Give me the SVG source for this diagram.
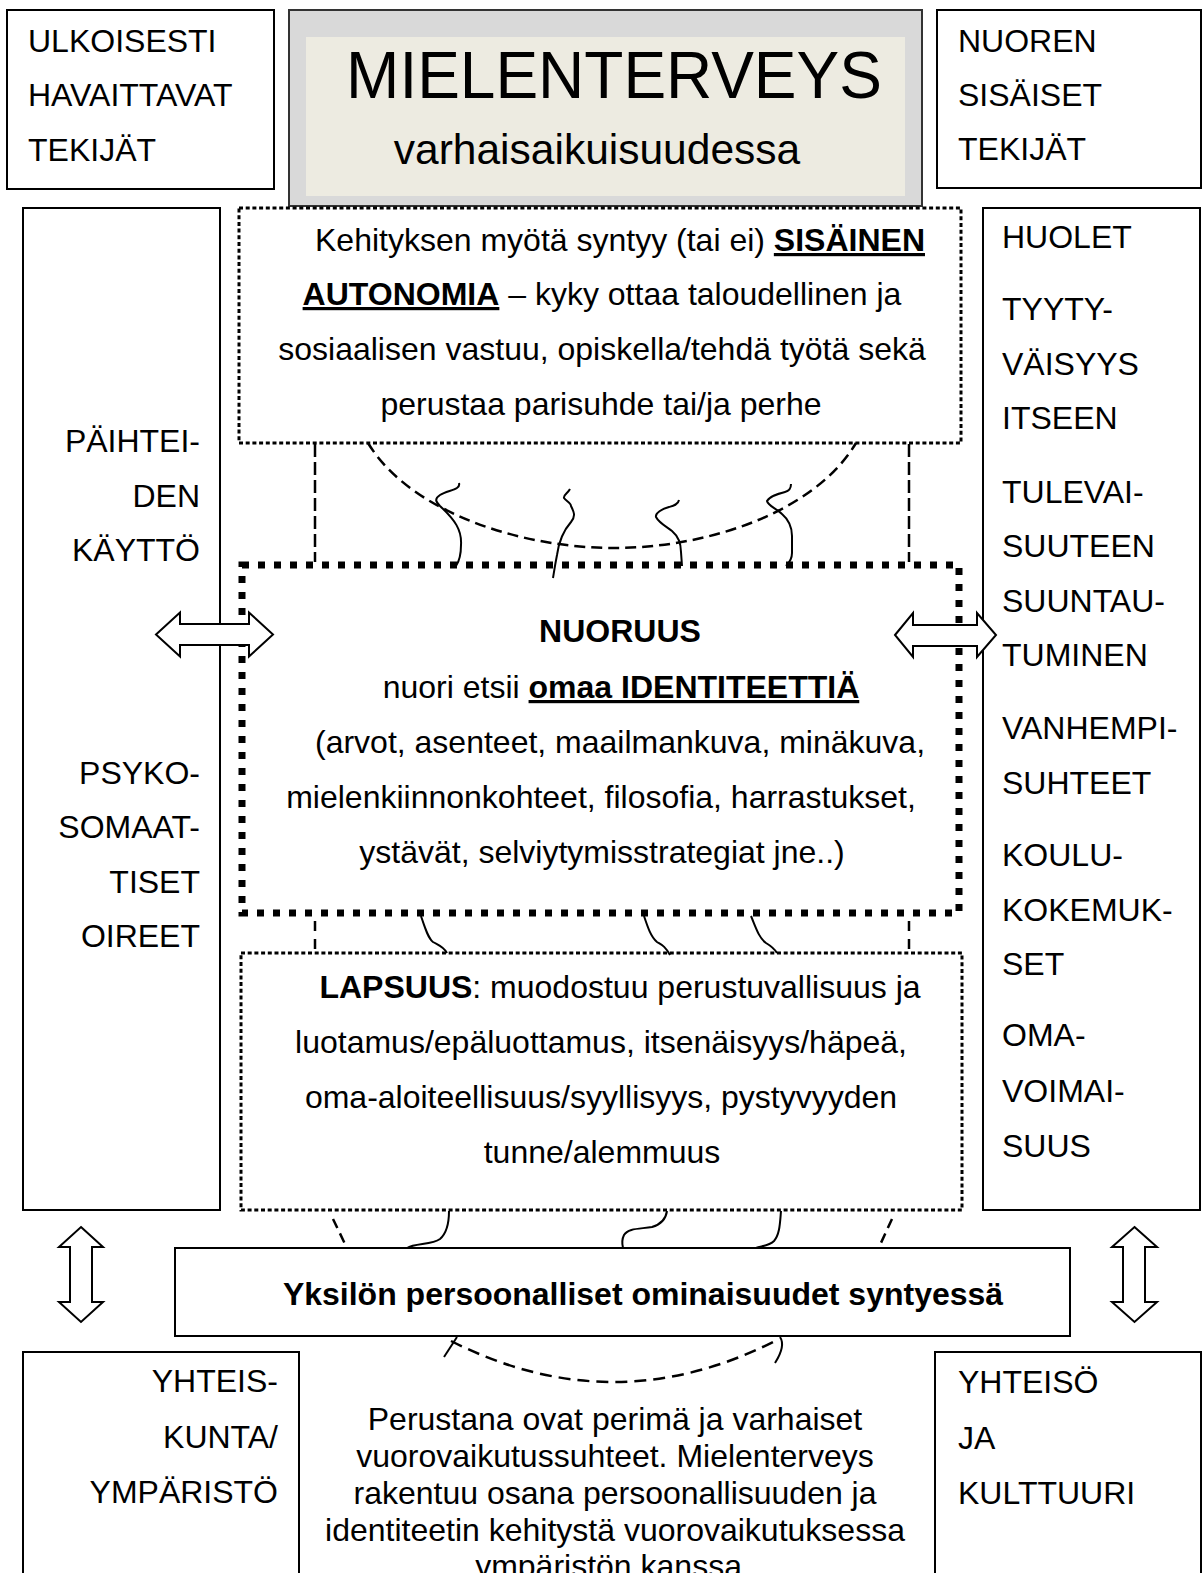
<svg xmlns="http://www.w3.org/2000/svg" width="1203" height="1573" viewBox="0 0 1203 1573">
<style>
text{font-family:"Liberation Sans",Arial,sans-serif;font-size:32px;fill:#000}
.b{font-weight:bold}
.u{text-decoration:underline}
.m{text-anchor:middle}
.e{text-anchor:end}
.box{fill:#fff;stroke:#000;stroke-width:2}
.fdot{fill:#fff;stroke:#000;stroke-width:3;stroke-dasharray:4 2.7}
.tdot{fill:none;stroke:#000;stroke-width:7;stroke-dasharray:7 9}
.dash{fill:none;stroke:#000;stroke-width:2.5;stroke-dasharray:13 5}
.arc{fill:none;stroke:#000;stroke-width:2.5;stroke-dasharray:11 6}
.sq{fill:none;stroke:#000;stroke-width:2}
.arr{fill:#fff;stroke:#000;stroke-width:2;stroke-linejoin:miter}
</style>
<rect width="1203" height="1573" fill="#fff"/>

<g id="ulkoisesti">
<rect class="box" x="7" y="10" width="267" height="179"/>
<text x="28" y="52">ULKOISESTI</text>
<text x="28" y="106">HAVAITTAVAT</text>
<text x="28" y="161">TEKIJÄT</text>
</g>

<g id="title">
<rect x="289" y="10" width="633" height="196" fill="#d9d9d9" stroke="#333" stroke-width="2"/>
<rect x="306" y="37" width="599" height="159" fill="#edebe1"/>
<text class="m" x="614" y="98" transform="translate(0 -4.9) scale(1 1.05)" style="font-size:64px">MIELENTERVEYS</text>
<text class="m" x="597" y="164" style="font-size:42.5px">varhaisaikuisuudessa</text>
</g>

<g id="nuoren">
<rect class="box" x="937" y="10" width="264" height="178"/>
<text x="958" y="52">NUOREN</text>
<text x="958" y="106">SISÄISET</text>
<text x="958" y="160">TEKIJÄT</text>
</g>

<g id="vasen">
<rect class="box" x="23" y="208" width="197" height="1002"/>
<text class="e" x="200" y="452">PÄIHTEI-</text>
<text class="e" x="200" y="507">DEN</text>
<text class="e" x="200" y="561">KÄYTTÖ</text>
<text class="e" x="200" y="784">PSYKO-</text>
<text class="e" x="200" y="838">SOMAAT-</text>
<text class="e" x="200" y="893">TISET</text>
<text class="e" x="200" y="947">OIREET</text>
</g>

<g id="oikea">
<rect class="box" x="983" y="208" width="217" height="1002"/>
<text x="1002" y="248">HUOLET</text>
<text x="1002" y="320">TYYTY-</text>
<text x="1002" y="375">VÄISYYS</text>
<text x="1002" y="429">ITSEEN</text>
<text x="1002" y="503">TULEVAI-</text>
<text x="1002" y="557">SUUTEEN</text>
<text x="1002" y="612">SUUNTAU-</text>
<text x="1002" y="666">TUMINEN</text>
<text x="1002" y="739">VANHEMPI-</text>
<text x="1002" y="794">SUHTEET</text>
<text x="1002" y="866">KOULU-</text>
<text x="1002" y="921">KOKEMUK-</text>
<text x="1002" y="975">SET</text>
<text x="1002" y="1046">OMA-</text>
<text x="1002" y="1102">VOIMAI-</text>
<text x="1002" y="1157">SUUS</text>
</g>

<g id="autonomia">
<rect class="fdot" x="239" y="208" width="722" height="235"/>
<text class="m" x="620" y="251">Kehityksen myötä syntyy (tai ei) <tspan class="b u">SISÄINEN</tspan></text>
<text class="m" x="602" y="305"><tspan class="b u">AUTONOMIA</tspan> – kyky ottaa taloudellinen ja</text>
<text class="m" x="602" y="360">sosiaalisen vastuu, opiskella/tehdä työtä sekä</text>
<text class="m" x="601" y="415">perustaa parisuhde tai/ja perhe</text>
</g>

<g id="nuoruus">
<rect class="tdot" x="242" y="565" width="717" height="348"/>
<text class="m b" x="620" y="642">NUORUUS</text>
<text class="m" x="621" y="698">nuori etsii <tspan class="b u">omaa IDENTITEETTIÄ</tspan></text>
<text class="m" x="620" y="753">(arvot, asenteet, maailmankuva, minäkuva,</text>
<text class="m" x="601" y="808">mielenkiinnonkohteet, filosofia, harrastukset,</text>
<text class="m" x="602" y="863">ystävät, selviytymisstrategiat jne..)</text>
</g>

<g id="lapsuus">
<rect class="fdot" x="241" y="953" width="721" height="257"/>
<text class="m" x="620" y="998"><tspan class="b">LAPSUUS</tspan>: muodostuu perustuvallisuus ja</text>
<text class="m" x="601" y="1053">luotamus/epäluottamus, itsenäisyys/häpeä,</text>
<text class="m" x="601" y="1108">oma-aloiteellisuus/syyllisyys, pystyvyyden</text>
<text class="m" x="602" y="1163">tunne/alemmuus</text>
</g>

<g id="yksilo">
<rect class="box" x="175" y="1248" width="895" height="88"/>
<text class="m b" x="643" y="1305">Yksilön persoonalliset ominaisuudet syntyessä</text>
</g>

<g id="yhteiskunta">
<path d="M23 1580 V1352 H299 V1580" fill="#fff" stroke="#000" stroke-width="2"/>
<text class="e" x="278" y="1392">YHTEIS-</text>
<text class="e" x="278" y="1448">KUNTA/</text>
<text class="e" x="278" y="1503">YMPÄRISTÖ</text>
</g>

<g id="yhteiso">
<path d="M935 1580 V1352 H1201 V1580" fill="#fff" stroke="#000" stroke-width="2"/>
<text x="958" y="1393">YHTEISÖ</text>
<text x="958" y="1449">JA</text>
<text x="958" y="1504">KULTTUURI</text>
</g>

<g id="perusta">
<text class="m" x="615" y="1430">Perustana ovat perimä ja varhaiset</text>
<text class="m" x="615" y="1467">vuorovaikutussuhteet. Mielenterveys</text>
<text class="m" x="615" y="1504">rakentuu osana persoonallisuuden ja</text>
<text class="m" x="615" y="1541">identiteetin kehitystä vuorovaikutuksessa</text>
<text class="m" x="613" y="1577">ympäristön kanssa.</text>
</g>

<g id="connectors">
<line class="dash" x1="315" y1="444" x2="315" y2="562"/>
<line class="dash" x1="909" y1="444" x2="909" y2="562"/>
<path class="arc" d="M368 443 C410 512 520 548 614 548 S815 512 856 443"/>
<path class="sq" d="M459 483 C461 490 448 490 440 495 C434 499 436 502 440 506 C455 520 462 530 461 545 C461 555 460 560 456 566"/>
<path class="sq" d="M570 489 C568 493 563 495 564 498 C566 501 571 503 571 506 C574 512 576 516 571 522 C564 530 559 540 557 555 C555 565 554 572 553 578"/>
<path class="sq" d="M679 500 C678 505 673 506 669 507 C662 509 655 513 656 517 C659 523 667 527 672 531 C679 537 681 545 681 552 L682 566"/>
<path class="sq" d="M791 484 C791 489 789 491 785 492 C777 494 770 496 767 501 C768 506 776 508 782 514 C789 520 792 527 792 536 L792 553 C792 558 790 562 786 566"/>

<line class="dash" x1="315" y1="921" x2="315" y2="952" style="stroke-dasharray:10 8"/>
<line class="dash" x1="909" y1="921" x2="909" y2="952" style="stroke-dasharray:10 8"/>
<path class="sq" d="M421 916 C425 928 428 938 433 942 C438 945 443 946 447 953"/>
<path class="sq" d="M644 916 C648 928 651 937 657 942 C662 945 665 946 670 955"/>
<path class="sq" d="M751 916 C756 928 759 938 766 943 C771 946 774 948 777 953"/>

<line class="arc" x1="333" y1="1219" x2="346" y2="1246" style="stroke-dasharray:10 6"/>
<line class="arc" x1="892" y1="1219" x2="880" y2="1245" style="stroke-dasharray:10 6"/>
<path class="sq" d="M449 1211 C449 1220 448 1232 440 1239 C432 1245 415 1243 407 1248"/>
<path class="sq" d="M667 1211 C666 1218 662 1224 652 1227 C640 1229 628 1228 624 1235 C622 1239 622 1244 623 1248"/>
<path class="sq" d="M781 1211 C780 1222 780 1234 774 1241 C769 1246 761 1246 756 1248"/>

<path class="arc" d="M451 1341 Q613 1423 775 1341" style="stroke-dasharray:12 7"/>
<path class="sq" d="M457 1337 L444 1357"/>
<path class="sq" d="M780 1337 C784 1343 782 1352 775 1363"/>

<polygon class="arr" points="156,634.5 180,612.5 180,624 249,624 249,612.5 273,634.5 249,656.5 249,645 180,645 180,656.5"/>
<polygon class="arr" points="895,635 913,613 913,625 977,625 977,613 996,635 977,657 977,646 913,646 913,657"/>
<polygon class="arr" points="81,1227 103,1247 92,1247 92,1302 103,1302 81,1322 59,1302 70,1302 70,1247 59,1247"/>
<polygon class="arr" points="1134.5,1227 1157,1247 1145,1247 1145,1302 1157,1302 1134.5,1322 1112,1302 1123,1302 1123,1247 1112,1247"/>
</g>
</svg>
